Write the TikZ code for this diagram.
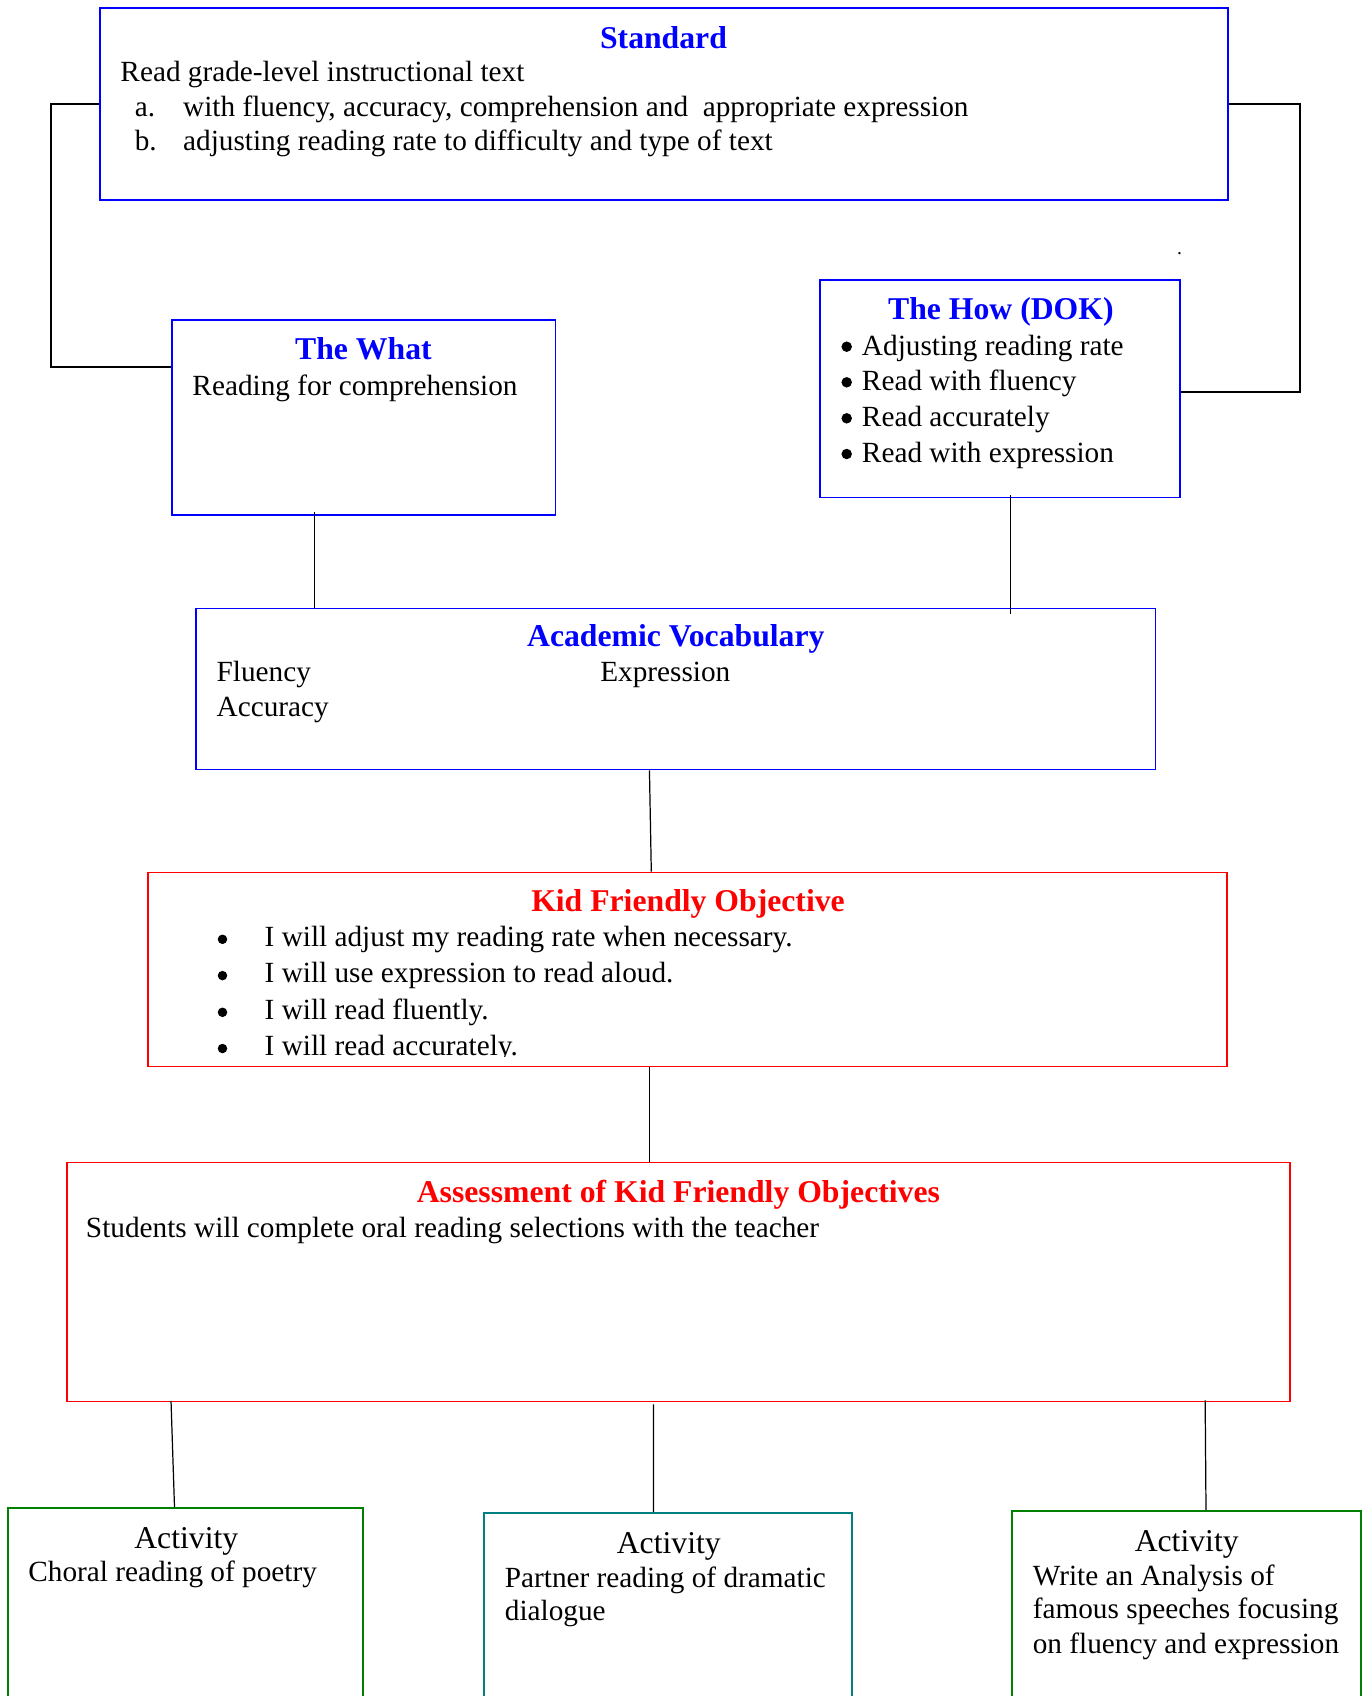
\documentclass[tikz,border=0pt]{standalone}
\usepackage{fontspec}
\setmainfont{Liberation Serif}
\usetikzlibrary{fit,calc}
\definecolor{wblue}{RGB}{0,0,255}
\definecolor{wred}{RGB}{255,0,0}
\definecolor{wgreen}{RGB}{0,128,0}
\definecolor{wteal}{RGB}{0,128,128}
\begin{document}
\begin{tikzpicture}[x=0.41pt,y=-0.41pt,
  box/.style={draw, line width=0.8pt, inner sep=0pt},
  bluebox/.style={box, draw=wblue},
  redbox/.style={box, draw=wred},
  greenbox/.style={box, draw=wgreen},
  tealbox/.style={box, draw=wteal},
  txt/.style={inner sep=0pt, anchor=base west, font=\fontsize{12}{14}\selectfont},
  bul/.style={circle, fill=black, inner sep=0pt, minimum size=4.3pt},
  kbul/.style={circle, fill=black, inner sep=0pt, minimum size=3.9pt},
  ttl/.style={inner sep=0pt, anchor=base, font=\fontsize{13}{15}\selectfont\bfseries},
  actttl/.style={inner sep=0pt, anchor=base, font=\fontsize{13}{15}\selectfont},
  elbow/.style={line width=0.8pt},
  link/.style={line width=0.5pt}]
\useasboundingbox (0,0) rectangle (1368,1696);
\clip (0,0) rectangle (1368,1696);

% ---- texts ----
\node[ttl, text=wblue] (stdT) at (663.5,48.3) {Standard};
\node[txt] (std1) at (120,81.7) {Read grade-level instructional text};
\node[txt] (std2a) at (134.3,116) {a.};
\node[txt] (std2) at (182.7,116) {with fluency, accuracy, comprehension and \ appropriate expression};
\node[txt] (std3a) at (134.3,150) {b.};
\node[txt] (std3) at (182.7,150) {adjusting reading rate to difficulty and type of text};

\node[ttl, text=wblue] (whatT) at (363.4,359.3) {The What};
\node[txt] (what1) at (192,395) {Reading for comprehension};

\node[ttl, text=wblue] (howT) at (1000.9,319.3) {The How (DOK)};
\node[bul] (howb1) at (846.7,346.7) {};
\node[txt] (how1) at (861.5,355) {Adjusting reading rate};
\node[bul] (howb2) at (846.7,382.3) {};
\node[txt] (how2) at (861.5,390.6) {Read with fluency};
\node[bul] (howb3) at (846.7,418.3) {};
\node[txt] (how3) at (861.5,426.6) {Read accurately};
\node[bul] (howb4) at (846.7,454) {};
\node[txt] (how4) at (861.5,462.3) {Read with expression};
\node[inner sep=0pt, anchor=base, font=\fontsize{8}{8}\selectfont] (dot) at (1179.6,254.5) {.};

\node[ttl, text=wblue] (acadT) at (675.8,646.7) {Academic Vocabulary};
\node[txt] (acad1) at (216.2,681.7) {Fluency};
\node[txt] (acad2) at (599.8,681.7) {Expression};
\node[txt] (acad3) at (216.2,716.7) {Accuracy};

\node[ttl, text=wred] (kidT) at (688,911) {Kid Friendly Objective};
\node[kbul] (kidb1) at (222.5,939.3) {};
\node[txt] (kid1) at (264.2,946.7) {I will adjust my reading rate when necessary.};
\node[kbul] (kidb2) at (222.5,975.6) {};
\node[txt] (kid2) at (264.2,982.7) {I will use expression to read aloud.};
\node[kbul] (kidb3) at (222.5,1012.3) {};
\node[txt] (kid3) at (264.2,1019.3) {I will read fluently.};
\node[kbul] (kidb4) at (222.5,1048.5) {};
\begin{scope}
\clip (200,1020) rectangle (1227,1056.7);
\node[txt] (kid4) at (264.2,1055) {I will read accurately.};
\end{scope}

\node[ttl, text=wred] (assT) at (678.4,1202.2) {Assessment of Kid Friendly Objectives};
\node[txt] (ass1) at (85.5,1237) {Students will complete oral reading selections with the teacher};

\node[actttl] (a1T) at (186.3,1548) {Activity};
\node[txt] (a1l1) at (27.9,1581.7) {Choral reading of poetry};
\node[actttl] (a2T) at (668.8,1553.2) {Activity};
\node[txt] (a2l1) at (504.4,1587) {Partner reading of dramatic};
\node[txt] (a2l2) at (504.4,1620.7) {dialogue};
\node[actttl] (a3T) at (1186.7,1551) {Activity};
\node[txt] (a3l1) at (1032.3,1585.2) {Write an Analysis of};
\node[txt] (a3l2) at (1032.3,1618.3) {famous speeches focusing};
\node[txt] (a3l3) at (1032.3,1653) {on fluency and expression};

% ---- boxes ----
\node[bluebox, fit={(100,8)(1228,200)}] (std) {};
\node[bluebox, fit={(172,320)(555.5,515)}] (what) {};
\node[bluebox, fit={(820,280)(1180,497.5)}] (how) {};
\node[bluebox, fit={(196,608.5)(1155.5,769.5)}] (acad) {};
\node[redbox, fit={(148,872.5)(1227,1066.5)}] (kid) {};
\node[redbox, fit={(67,1162.5)(1290,1401.5)}] (assess) {};
\node[greenbox, fit={(8,1508)(363,1800)}] (act1) {};
\node[tealbox, fit={(484,1513)(852,1800)}] (act2) {};
\node[greenbox, fit={(1012,1511)(1361,1800)}] (act3) {};

% ---- connectors ----
\draw[elbow] (std.west) -- ++(-48,0) |- ($(what.north west)+(0,48.3)$);
\draw[elbow] (std.east) -- ++(71,0) |- ($(how.north east)+(0,112.7)$);
\coordinate (w1) at ($(what.south west)+(143.6,-4)$);
\draw[link] (w1) -- (w1 |- acad.north);
\coordinate (h1) at ($(how.south west)+(191.3,-3)$);
\draw[link] (h1) -- ($(h1 |- acad.north)+(0,6.5)$);
\draw[link] ($(acad.south)+(-26.3,0)$) -- ($(kid.north)+(-36.2,0)$);
\draw[link] ($(kid.south)+(-38,0)$) -- ($(assess.north)+(-29,0)$);
\draw[link] ($(assess.south west)+(105,-1.5)$) -- ($(act1.north)+(-11,0)$);
\draw[link] ($(assess.south)+(-25,2)$) -- ($(act2.north)+(-14.4,0)$);
\draw[link] ($(assess.south east)+(-85.8,-2)$) -- ($(act3.north)+(19.5,0)$);
\end{tikzpicture}
\end{document}
